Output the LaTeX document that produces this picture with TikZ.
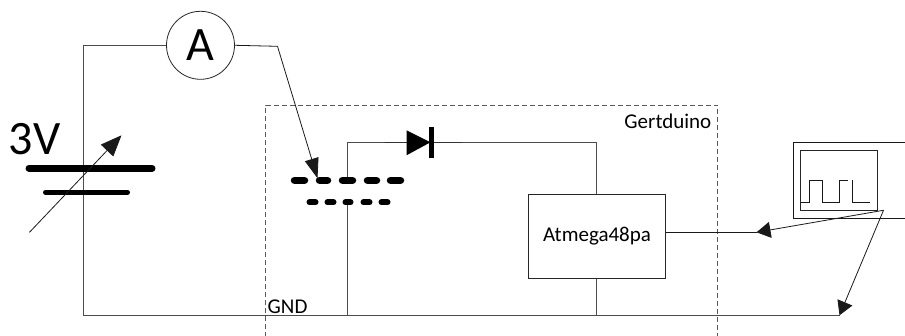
\documentclass[tikz,border=0pt]{standalone}
\usepackage{fontspec}
\setmainfont{Carlito}
\usetikzlibrary{arrows.meta}
\definecolor{wiregray}{gray}{0.3}
\tikzset{
  wire/.style={draw=wiregray,line width=1pt},
  thinwire/.style={draw=black!90,line width=0.8pt},
  probe/.style={draw=black!90,line width=0.8pt,-{Triangle[length=14pt,width=16pt]}},
  swprobe/.style={draw=black!90,line width=0.8pt,-{Triangle[length=20pt,width=14pt]}},
  varrow/.style={draw=black!90,line width=0.8pt,-{Triangle[length=21pt,width=17pt]}},
  plate/.style={draw=black,line cap=round},
  chipbox/.style={draw=black!85,line width=1pt,minimum width=137pt,minimum height=84pt,inner sep=0pt},
  plain/.style={inner sep=0pt,text=black},
}
\begin{document}
\begin{tikzpicture}[x=1pt,y=-1pt,every node/.style={font=\fontsize{21}{23}\selectfont}]
\useasboundingbox (0.5,-0.3) rectangle (905.5,335.7);
% coordinates
\coordinate (tl) at (84,45);
\coordinate (bl) at (84,315);
\coordinate (gndend) at (840,315);
\coordinate (bend) at (278,46);
\coordinate (switchtip) at (318,178);
\coordinate (topj) at (348,180);
\coordinate (topc) at (348,142);
\coordinate (botj) at (348,202);
\coordinate (botg) at (348,315);
\coordinate (dtopr) at (597,142);
\coordinate (ag) at (597,315);
\coordinate (probeo) at (884,210);
\coordinate (sigend) at (757,232);
\coordinate (varA) at (30,232);
\coordinate (varB) at (122,135);
% dashed board
\draw[draw=black!65,line width=1pt,dash pattern=on 5pt off 3pt] (266,337) -- (266,105) -- (718,105) -- (718,337);
\node[plain,anchor=east] (board) at (712,121) {Gertduino};
\node[plain,anchor=west] (gnd) at (268,306) {GND};
% ammeter
\node[draw=black!85,line width=0.8pt,circle,minimum size=68pt,inner sep=0pt,font=\fontsize{48}{50}\selectfont] (amm) at (201,45) {A};
% chip
\node[chipbox] (chip) at (597.5,236) {Atmega48pa};
% wires
\draw[wire] (amm.west) -- (tl) -- (bl) -- (gndend);
\draw[thinwire] (amm.east) -- (bend);
\draw[swprobe] (bend) -- (switchtip);
\draw[wire] (topj) -- (topc) -- (dtopr) -- (chip.north -| dtopr);
\draw[wire] (botj) -- (botg);
\draw[wire] (chip.south -| ag) -- (ag);
\draw[thinwire] (chip.east |- sigend) -- (sigend);
\draw[probe] (probeo) -- (sigend);
\draw[probe] (probeo) -- (gndend);
% battery
\node[plain,font=\fontsize{48}{50}\selectfont] (volt) at (35,138.5) {3V};
\draw[plate,line width=7pt] (29.5,168) -- (152.5,168);
\draw[plate,line width=5pt] (46,192) -- (128,192);
\draw[varrow] (varA) -- (varB);
% switch contacts
\foreach \a/\b in {295/305,320/328,343/353,368/377,391/401}
  \draw[plate,line width=7.5pt] (\a,180) -- (\b,180);
\foreach \a/\b in {310/316,328/334,346/351,364/370,382/388}
  \draw[plate,line width=6pt] (\a,202) -- (\b,202);
% diode
\draw[draw=black!80,line width=1.2pt] (385,142) -- (462,142);
\fill[black] (407,130) -- (431,142) -- (407,155) -- cycle;
\fill[black] (429.5,127) rectangle (434.5,158);
% oscilloscope
\draw[draw=black!90,line width=1pt] (906,142) -- (794,142) -- (794,218) -- (906,218);
\draw[draw=black!85,line width=1pt] (801,150) rectangle (878,210);
\draw[draw=black!90,line width=1pt] (801,202) -- (810,202) -- (810,180) -- (823,180) -- (823,202) -- (840,202) -- (840,180) -- (848,180);
\draw[draw=black!90,line width=1pt] (853,180) -- (853,202) -- (870,202);
\end{tikzpicture}
\end{document}
